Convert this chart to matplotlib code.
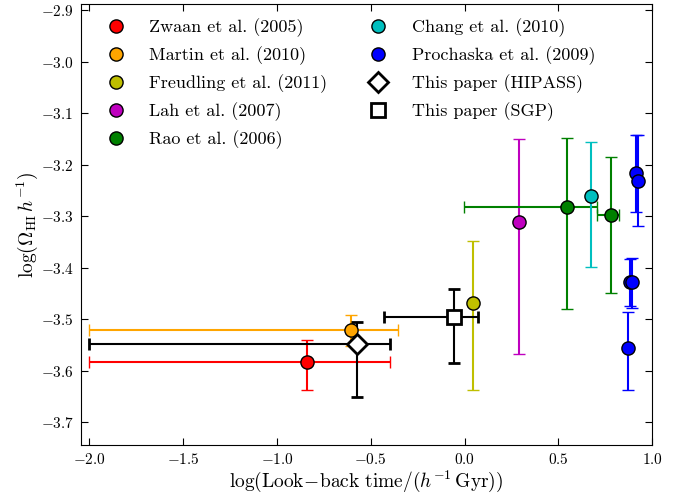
import matplotlib
matplotlib.use("Agg")
import matplotlib.pyplot as plt
from matplotlib.lines import Line2D

plt.rcParams["font.family"] = "serif"
plt.rcParams["font.serif"] = ["cmr10"]
plt.rcParams["mathtext.fontset"] = "cm"
plt.rcParams["axes.formatter.use_mathtext"] = True
plt.rcParams["axes.unicode_minus"] = True

# ------------------------
# Data (log look-back time, log Omega_HI h^-1)
# ------------------------
labels = ["Zwaan et al. (2005)", "Martin et al. (2010)", "Freudling et al. (2011)",
          "Lah et al. (2007)", "Rao et al. (2006)", "Chang et al. (2010)",
          "Prochaska et al. (2009)", "This paper (HIPASS)", "This paper (SGP)"]
colors = ["r", "orange", "y", "m", "g", "c", "b", "k", "k"]

zwaan_x, zwaan_y = [-0.84], [-3.584]
zwaan_xerr = [[1.16], [0.44]]
zwaan_yerr = [[0.054], [0.044]]

martin_x, martin_y = [-0.605], [-3.522]
martin_xerr = [[1.395], [0.25]]
martin_yerr = [[0.03], [0.03]]

freud_x, freud_y = [0.046], [-3.469]
freud_yerr = [[0.169], [0.121]]

lah_x, lah_y = [0.289], [-3.311]
lah_yerr = [[0.256], [0.16]]

rao_x, rao_y = [0.548, 0.778], [-3.283, -3.297]
rao_xerr = [[0.55, 0.073], [0.157, 0.044]]
rao_yerr = [[0.197, 0.152], [0.134, 0.112]]

chang_x, chang_y = [0.675], [-3.2605]
chang_yerr = [[0.138], [0.104]]

proch_x = [0.913, 0.926, 0.879, 0.894, 0.869]
proch_y = [-3.217, -3.231, -3.429, -3.429, -3.556]
proch_yerr = [[0.075, 0.088, 0.045, 0.049, 0.082],
              [0.075, 0.088, 0.045, 0.047, 0.069]]

hipass_x, hipass_y = [-0.574], [-3.549]
hipass_xerr = [[1.426], [0.177]]
hipass_yerr = [[0.102], [0.043]]

sgp_x, sgp_y = [-0.059], [-3.4965]
sgp_xerr = [[0.372], [0.133]]
sgp_yerr = [[0.089], [0.054]]

# ------------------------
# Plot
# ------------------------
fig = plt.figure(figsize=(6.78, 4.93), dpi=100)
ax = fig.add_axes([0.119, 0.097, 0.843, 0.895])

eb = dict(fmt="o", ms=9.5, mec="k", mew=1.0, elinewidth=1.5, capsize=4, capthick=1.5)

ax.errorbar(zwaan_x, zwaan_y, xerr=zwaan_xerr, yerr=zwaan_yerr, color="r", mfc="r", **eb)
ax.errorbar(martin_x, martin_y, xerr=martin_xerr, yerr=martin_yerr, color="orange", mfc="orange", **eb)
ax.errorbar(freud_x, freud_y, yerr=freud_yerr, color="y", mfc="y", **eb)
ax.errorbar(lah_x, lah_y, yerr=lah_yerr, color="m", mfc="m", **eb)
ax.errorbar(rao_x, rao_y, xerr=rao_xerr, yerr=rao_yerr, color="g", mfc="g", **eb)
ax.errorbar(chang_x, chang_y, yerr=chang_yerr, color="c", mfc="c", **eb)
ax.errorbar(proch_x, proch_y, yerr=proch_yerr, color="b", mfc="b", **eb)

ax.errorbar(hipass_x, hipass_y, xerr=hipass_xerr, yerr=hipass_yerr, fmt="D", ms=10,
            color="k", mfc="w", mec="k", mew=2, elinewidth=1.5, capsize=4, capthick=1.5)
ax.errorbar(sgp_x, sgp_y, xerr=sgp_xerr, yerr=sgp_yerr, fmt="s", ms=10,
            color="k", mfc="w", mec="k", mew=2, elinewidth=1.5, capsize=4, capthick=1.5)

ax.set_xlim(-2.046, 1.0)
ax.set_ylim(-3.745, -2.888)
ax.set_xticks([-2.0, -1.5, -1.0, -0.5, 0.0, 0.5, 1.0])
ax.set_yticks([-3.7, -3.6, -3.5, -3.4, -3.3, -3.2, -3.1, -3.0, -2.9])
ax.tick_params(direction="in", top=True, right=True, length=5, labelsize=11, pad=5)

ax.set_xlabel(r"$\log(\mathrm{Look\!-\!back\ time}/(h^{-1}\,\mathrm{Gyr}))$", fontsize=14, labelpad=1)
ax.set_ylabel(r"$\log(\Omega_\mathrm{HI}\,h^{-1})$", fontsize=14, labelpad=0.5)

# legend with marker-only handles
handles = []
for i, (lab, c) in enumerate(zip(labels, colors)):
    if i == 7:
        h = Line2D([], [], ls="none", marker="D", ms=10, mfc="w", mec="k", mew=2)
    elif i == 8:
        h = Line2D([], [], ls="none", marker="s", ms=10, mfc="w", mec="k", mew=2)
    else:
        h = Line2D([], [], ls="none", marker="o", ms=9.5, mfc=c, mec="k", mew=1.0)
    handles.append(h)

ax.legend(handles, labels, loc="upper left", ncol=2, frameon=False, fontsize=13,
          numpoints=1, handlelength=2.0, handletextpad=0.85, columnspacing=1.82,
          labelspacing=0.51, borderpad=0, borderaxespad=0,
          bbox_to_anchor=(0.030, 0.967))

fig.savefig("out.png", dpi=100)
